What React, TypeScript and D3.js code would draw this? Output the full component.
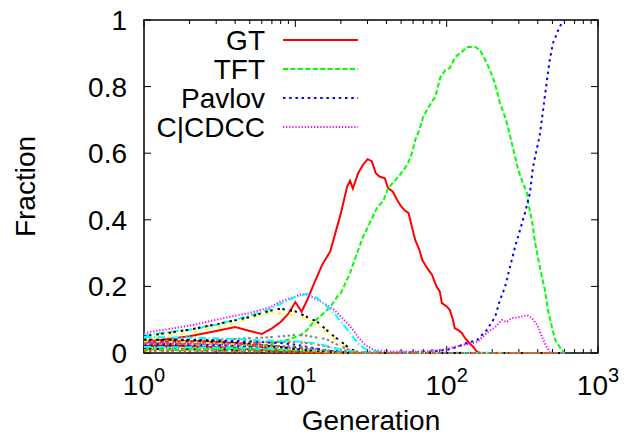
// chart of strategy fractions per generation, drawn with d3 inside react
import * as d3 from "d3";
import { useRef, useEffect } from "react";

// main strategies, [generation, fraction]
const GT: [number, number][] = [
  [1, 0.033], [2, 0.05], [3, 0.066], [4, 0.078], [5, 0.066], [6, 0.057], [7, 0.074], [8, 0.093],
  [9, 0.118], [10, 0.153], [11, 0.124], [12, 0.16], [13, 0.198], [15, 0.264], [17, 0.305], [18, 0.345],
  [20, 0.42], [22, 0.5], [23, 0.517], [24, 0.494], [26, 0.54], [28, 0.565], [30, 0.582], [32, 0.576],
  [34, 0.54], [36, 0.53], [39, 0.525], [41, 0.495], [44, 0.485], [47, 0.46], [50, 0.44], [53, 0.428],
  [56, 0.42], [59, 0.378], [62, 0.339], [66, 0.31], [69, 0.279], [72, 0.265], [76, 0.249], [80, 0.235],
  [86, 0.198], [90, 0.185], [93, 0.15], [100, 0.14], [105, 0.129], [110, 0.1], [113, 0.075], [120, 0.068],
  [126, 0.06], [132, 0.045], [139, 0.033], [150, 0.018], [159, 0.003], [170, 0], [600, 0],
];

const TFT: [number, number][] = [
  [1, 0.02], [2, 0.018], [3, 0.017], [4, 0.017], [5, 0.018], [6, 0.022], [7, 0.027], [8, 0.035],
  [9, 0.04], [10, 0.048], [11, 0.056], [12, 0.07], [13, 0.09], [15, 0.115], [17, 0.138], [19, 0.17],
  [20, 0.18], [23, 0.24], [25, 0.288], [28, 0.348], [31, 0.39], [35, 0.44], [38, 0.455], [41, 0.495],
  [45, 0.515], [48, 0.53], [52, 0.55], [55, 0.565], [59, 0.6], [62, 0.64], [66, 0.67], [70, 0.709],
  [76, 0.739], [84, 0.769], [91, 0.829], [98, 0.85], [105, 0.856], [114, 0.889], [126, 0.904],
  [136, 0.919], [154, 0.919], [166, 0.91], [184, 0.871], [202, 0.829], [214, 0.79], [225, 0.75],
  [243, 0.709], [254, 0.679], [273, 0.619], [297, 0.55], [317, 0.514], [340, 0.48], [346, 0.45],
  [366, 0.399], [382, 0.339], [404, 0.279], [426, 0.228], [446, 0.189], [467, 0.129], [496, 0.078],
  [522, 0.039], [575, 0.009], [600, 0],
];

const PAVLOV: [number, number][] = [
  [1, 0.03], [2, 0.028], [3, 0.025], [4, 0.022], [5, 0.02], [6, 0.018], [8, 0.015], [10, 0.012],
  [14, 0.006], [20, 0.003], [30, 0.001], [50, 0.001], [80, 0.004], [100, 0.009], [117, 0.018],
  [136, 0.03], [159, 0.039], [184, 0.069], [209, 0.108], [225, 0.159], [243, 0.198], [262, 0.258],
  [283, 0.318], [305, 0.369], [329, 0.42], [355, 0.48], [372, 0.559], [397, 0.619], [414, 0.66],
  [434, 0.73], [457, 0.81], [480, 0.88], [504, 0.931], [547, 0.97], [588, 1.0],
];

const CCDCC: [number, number][] = [
  [1, 0.06], [2, 0.082], [3, 0.1], [4, 0.112], [5, 0.12], [6, 0.13], [7, 0.14], [8, 0.155],
  [10, 0.17], [11, 0.177], [12, 0.175], [14, 0.16], [16, 0.145], [18, 0.13], [20, 0.11], [22, 0.09],
  [24, 0.07], [26, 0.048], [29, 0.024], [33, 0.009], [40, 0.005], [60, 0.004], [80, 0.006],
  [100, 0.012], [128, 0.024], [159, 0.033], [184, 0.06], [209, 0.078], [232, 0.099], [249, 0.093],
  [270, 0.105], [305, 0.108], [340, 0.114], [366, 0.105], [397, 0.084], [426, 0.048], [457, 0.018],
  [480, 0.003], [500, 0], [600, 0],
];

// the unnamed strategies share one set of generations
const BG_GENS = [1, 2, 3, 4, 5, 6, 7, 8, 10, 12, 14, 16, 18, 20, 23, 26, 30, 40, 600];
const cyan1 = [.054, .07, .085, .1, .112, .124, .135, .148, .168, .178, .165, .142, .12, .095, .06, .028, .008, .001, 0];
const yellow1 = [.045, .06, .077, .09, .104, .114, .12, .118, .112, .1, .084, .062, .042, .028, .01, .003, 0, 0, 0];
const black1 = [.05, .07, .086, .098, .108, .12, .128, .133, .125, .108, .093, .07, .05, .035, .012, .003, .001, 0, 0];
const orange1 = [.025, .028, .03, .03, .031, .032, .033, .033, .032, .03, .025, .02, .015, .01, .005, .002, 0, 0, 0];
const gray1 = [.03, .035, .04, .042, .045, .046, .048, .05, .054, .052, .046, .042, .03, .02, .008, .003, .001, 0, 0];
const red2 = [.033, .035, .033, .03, .025, .018, .012, .008, .004, .002, .001, 0, 0, 0, 0, 0, 0, 0, 0];
const green2 = [.02, .019, .017, .015, .013, .011, .009, .008, .006, .004, .003, .002, .001, 0, 0, 0, 0, 0, 0];
const blue2 = [.04, .04, .038, .036, .035, .033, .031, .03, .025, .018, .013, .008, .005, .003, .001, 0, 0, 0, 0];
const magenta2 = [.015, .014, .013, .012, .011, .01, .009, .008, .006, .004, .003, .002, .001, 0, 0, 0, 0, 0, 0];
const cyan2 = [.048, .046, .044, .042, .04, .038, .037, .036, .035, .032, .028, .022, .015, .01, .005, .002, 0, 0, 0];
const yellow2 = [.02, .018, .015, .012, .01, .008, .006, .005, .003, .002, .001, 0, 0, 0, 0, 0, 0, 0, 0];
const black2 = [.012, .011, .01, .009, .008, .007, .006, .005, .004, .003, .002, .001, 0, 0, 0, 0, 0, 0, 0];
const orange2 = [.038, .036, .033, .03, .027, .025, .022, .02, .017, .013, .01, .007, .004, .002, .001, 0, 0, 0, 0];
const gray2 = [.008, .008, .007, .007, .006, .006, .005, .005, .004, .003, .002, .001, 0, 0, 0, 0, 0, 0, 0];
const red3 = [.022, .02, .017, .014, .011, .009, .007, .005, .003, .002, .001, 0, 0, 0, 0, 0, 0, 0, 0];
const green3 = [.01, .011, .012, .012, .011, .01, .009, .008, .007, .005, .003, .002, .001, 0, 0, 0, 0, 0, 0];
const blue3 = [.025, .024, .023, .022, .021, .02, .019, .018, .016, .013, .01, .007, .005, .003, .001, 0, 0, 0, 0];
const magenta3 = [.03, .029, .027, .025, .023, .021, .019, .017, .014, .011, .008, .005, .003, .002, .001, 0, 0, 0, 0];
const cyan3 = [.018, .017, .016, .015, .014, .013, .012, .011, .01, .008, .006, .004, .003, .002, .001, 0, 0, 0, 0];
const yellow3 = [.035, .033, .03, .027, .024, .021, .018, .016, .012, .009, .006, .004, .002, .001, 0, 0, 0, 0, 0];
const black3 = [.04, .038, .035, .032, .028, .024, .02, .017, .012, .008, .005, .003, .002, .001, 0, 0, 0, 0, 0];
const orange3 = [.005, .005, .005, .004, .004, .004, .003, .003, .002, .002, .001, 0, 0, 0, 0, 0, 0, 0, 0];
const gray3 = [.028, .027, .026, .025, .024, .023, .022, .021, .019, .016, .012, .008, .005, .003, .001, 0, 0, 0, 0];

const LEGEND = ["GT", "TFT", "Pavlov", "C|CDCC"];
const Y_TICKS = [0, 0.2, 0.4, 0.6, 0.8, 1];
const X_TICKS = [1, 10, 100, 1000];
const X_EXP = ["0", "1", "2", "3"];

// gnuplot postscript colour + dash cycle
const COLORS = ["#ff0000", "#00ff00", "#0000ff", "#ff00ff", "#00ffff", "#ffff00", "#000000", "#ff4d00", "#808080"];
const DASH_UNITS = [[], [4, 2], [2, 3], [1, 1.5], [6, 2, 1, 2], [3, 3, 1, 3], [2, 2, 2, 4], [2, 2, 2, 2, 2, 4], [2, 2, 2, 2, 2, 2, 2, 4]];

export default function App() {
  const svgRef = useRef<SVGSVGElement>(null);

  useEffect(() => {
    document.body.style.margin = "0";
    const svg = d3.select(svgRef.current);
    svg.selectAll("*").remove();

    // plot box
    const left = 144, right = 598, top = 20, bottom = 353;
    const font = "'Liberation Sans', Arial, Helvetica, sans-serif";
    const fs = 28;
    const dl = 1.24;

    const x = d3.scaleLog().domain([1, 1000]).range([left, right]);
    const y = d3.scaleLinear().domain([0, 1]).range([bottom, top]);

    const line = d3.line<[number, number]>().x(d => x(d[0])).y(d => y(d[1]));

    // all series in plot order
    const bg = [cyan1, yellow1, black1, orange1, gray1, red2, green2, blue2, magenta2, cyan2, yellow2, black2,
      orange2, gray2, red3, green3, blue3, magenta3, cyan3, yellow3, black3, orange3, gray3];
    const series: [number, number][][] = [GT, TFT, PAVLOV, CCDCC,
      ...bg.map(vals => vals.map((v, i) => [BG_GENS[i], v] as [number, number]))];

    const styleOf = (i: number) => ({
      color: COLORS[i % 9],
      dash: DASH_UNITS[i % 9].map(u => u * dl).join(","),
    });

    // frame
    svg.append("rect").attr("x", left).attr("y", top).attr("width", right - left).attr("height", bottom - top)
      .attr("fill", "none").attr("stroke", "#000").attr("stroke-width", 1.5);

    // y ticks on both sides
    Y_TICKS.forEach(t => {
      svg.append("line").attr("x1", left).attr("x2", left + 7).attr("y1", y(t)).attr("y2", y(t)).attr("stroke", "#000");
      svg.append("line").attr("x1", right).attr("x2", right - 7).attr("y1", y(t)).attr("y2", y(t)).attr("stroke", "#000");
      svg.append("text").attr("x", left - 17).attr("y", y(t) + 10).attr("text-anchor", "end")
        .style("font-family", font).style("font-size", `${fs}px`).text(String(t));
    });

    // x ticks, major and minor, bottom and top
    for (let dec = 1; dec <= 100; dec *= 10) {
      for (let m = 2; m <= 9; m++) {
        const px = x(dec * m);
        svg.append("line").attr("x1", px).attr("x2", px).attr("y1", bottom).attr("y2", bottom - 4).attr("stroke", "#000");
        svg.append("line").attr("x1", px).attr("x2", px).attr("y1", top).attr("y2", top + 4).attr("stroke", "#000");
      }
    }
    X_TICKS.forEach((t, i) => {
      svg.append("line").attr("x1", x(t)).attr("x2", x(t)).attr("y1", bottom).attr("y2", bottom - 7).attr("stroke", "#000");
      svg.append("line").attr("x1", x(t)).attr("x2", x(t)).attr("y1", top).attr("y2", top + 7).attr("stroke", "#000");
      const label = svg.append("text").attr("x", x(t)).attr("y", bottom + 42).attr("text-anchor", "middle")
        .style("font-family", font).style("font-size", `${fs}px`);
      label.append("tspan").text("10");
      label.append("tspan").attr("dy", -13).style("font-size", "20px").text(X_EXP[i]);
    });

    // curves
    series.forEach((data, i) => {
      const s = styleOf(i);
      svg.append("path").datum(data).attr("fill", "none").attr("stroke", s.color).attr("stroke-width", 2)
        .attr("stroke-dasharray", s.dash || null).attr("d", line);
    });

    // legend
    LEGEND.forEach((name, i) => {
      const cy = 40 + i * 29;
      const s = styleOf(i);
      svg.append("text").attr("x", 265).attr("y", cy + 10).attr("text-anchor", "end")
        .style("font-family", font).style("font-size", `${fs}px`).text(name);
      svg.append("line").attr("x1", 283).attr("x2", 358).attr("y1", cy).attr("y2", cy)
        .attr("stroke", s.color).attr("stroke-width", 2).attr("stroke-dasharray", s.dash || null);
    });

    // axis titles
    svg.append("text").attr("x", (left + right) / 2).attr("y", 430).attr("text-anchor", "middle")
      .style("font-family", font).style("font-size", `${fs}px`).text("Generation");
    svg.append("text").attr("transform", `translate(35,${(top + bottom) / 2}) rotate(-90)`).attr("text-anchor", "middle")
      .style("font-family", font).style("font-size", `${fs}px`).text("Fraction");
  }, []);

  return <svg ref={svgRef} width={632} height={438} style={{ display: "block" }} />;
}
